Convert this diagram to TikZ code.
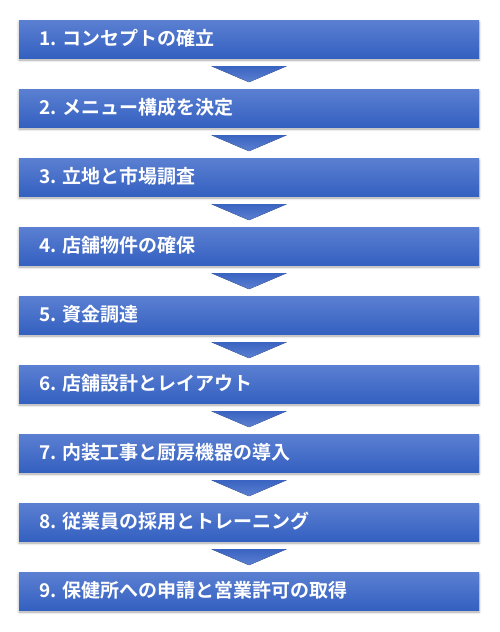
\documentclass[tikz,border=0pt]{standalone}
\usepackage{fontspec}
\newfontfamily\jpfont{Noto Sans CJK JP}[BoldFont={Noto Sans CJK JP Bold}]
\usetikzlibrary{shadows.blur}
\definecolor{boxtop}{HTML}{5B80D2}
\definecolor{boxbot}{HTML}{3460C0}
\definecolor{arrtop}{HTML}{3A64C2}
\definecolor{arrbot}{HTML}{5A80D0}
\tikzset{
  stepbox/.style={minimum width=460pt, minimum height=38pt, inner sep=0pt,
    top color=boxtop, bottom color=boxbot, draw=none,
    blur shadow={shadow xshift=0pt, shadow yshift=-2pt, shadow blur steps=6, shadow opacity=35, shadow blur radius=2.5pt}},
  steptext/.style={anchor=west, text=white, font=\jpfont\bfseries\fontsize{19}{22}\selectfont, inner sep=0pt},
  downarrow/.style={top color=arrtop, bottom color=arrbot, draw=none}
}
\begin{document}
\begin{tikzpicture}[x=1pt,y=-1pt]
\useasboundingbox (0,0) rectangle (500,632);
\foreach \i/\t in {1/{1. コンセプトの確立},2/{2. メニュー構成を決定},3/{3. 立地と市場調査},4/{4. 店舗物件の確保},5/{5. 資金調達},6/{6. 店舗設計とレイアウト},7/{7. 内装工事と厨房機器の導入},8/{8. 従業員の採用とトレーニング},9/{9. 保健所への申請と営業許可の取得}}{
  \pgfmathsetmacro{\cy}{39+69*(\i-1)}
  \node[stepbox] (b\i) at (249,\cy) {};
  \node[steptext] (t\i) at ([xshift=20pt,yshift=0.5pt]b\i.west) {\t};
}
\foreach \i [evaluate=\i as \j using int(\i+1)] in {1,...,8}{
  \coordinate (a\i) at ([yshift=-8pt]b\i.south);
  \fill[downarrow] ([xshift=-37.5pt]a\i) -- ([xshift=37.5pt]a\i) -- ([yshift=-16pt]a\i) -- cycle;
}
\end{tikzpicture}
\end{document}
